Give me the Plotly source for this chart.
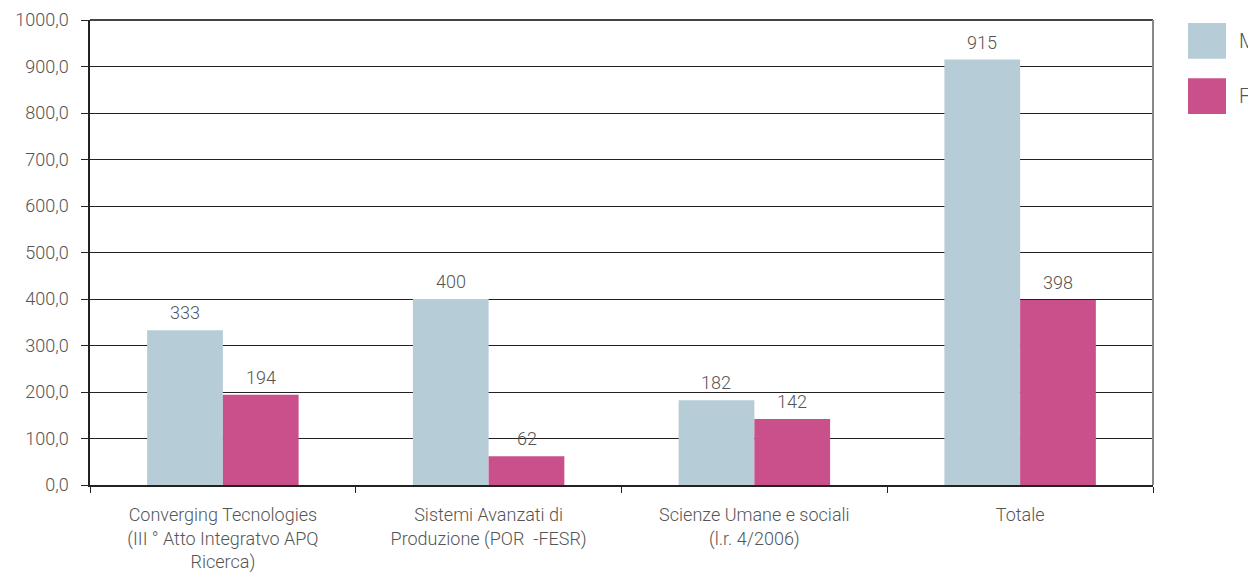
import plotly.graph_objects as go

categories = [
    "Converging Tecnologies<br>(III ° Atto Integratvo APQ<br>Ricerca)",
    "Sistemi Avanzati di<br>Produzione (POR  -FESR)",
    "Scienze Umane e sociali<br>(l.r. 4/2006)",
    "Totale",
]
series_names = ["M", "F"]
m_values = [333, 400, 182, 915]
f_values = [194, 62, 142, 398]
colors = ["#b6ccd6", "#c9508a"]
y_ticks = [0, 100, 200, 300, 400, 500, 600, 700, 800, 900, 1000]

FONT = "Roboto"
TXT = "#555555"

fig = go.Figure()
for name, vals, col in zip(series_names, [m_values, f_values], colors):
    fig.add_trace(go.Bar(
        name=name, x=categories, y=vals, marker_color=col,
        marker_line_width=0, showlegend=False,
    ))

# value labels
for i, vals in enumerate([m_values, f_values]):
    shift = -38 if i == 0 else 38
    for c, v in zip(categories, vals):
        fig.add_annotation(x=c, y=v, text=str(v), showarrow=False,
                           xshift=shift, yanchor="bottom", yshift=5,
                           font=dict(family=FONT, size=18, color=TXT, weight=300))

# legend drawn as boxes + labels
legend_tops = [0.9935, 0.875]
for name, col, y0 in zip(series_names, colors, legend_tops):
    fig.add_shape(type="rect", xref="paper", yref="paper",
                  x0=1.0329, x1=1.0687, y0=y0 - 0.077, y1=y0,
                  fillcolor=col, line_width=0)
    fig.add_annotation(xref="paper", yref="paper", x=1.0790, y=y0 - 0.0385,
                       text=name, showarrow=False, xanchor="left", yanchor="middle",
                       font=dict(family=FONT, size=20, color=TXT, weight=300))

# top and right border
fig.add_shape(type="line", xref="paper", yref="paper", x0=0, x1=1, y0=1, y1=1,
              line=dict(color="#444444", width=2))
fig.add_shape(type="line", xref="paper", yref="paper", x0=1, x1=1, y0=0, y1=1,
              line=dict(color="#888888", width=2))

fig.update_layout(
    width=1248, height=569,
    margin=dict(l=82, r=103, t=12, b=92, autoexpand=False),
    paper_bgcolor="white", plot_bgcolor="white",
    barmode="group", bargap=0.43, bargroupgap=0,
    separators=",.",
    font=dict(family=FONT, size=18, color=TXT, weight=300),
    showlegend=False,
)
fig.update_xaxes(
    automargin=False,
    showline=True, linecolor="#222222", linewidth=1.5,
    ticks="outside", tickson="boundaries", ticklen=6, tickcolor="#222222",
    tickfont=dict(family=FONT, size=18, color=TXT, weight=300),
    ticklabelstandoff=13,
    showgrid=False,
)
fig.update_yaxes(
    automargin=False,
    range=[0, 1000], tickvals=y_ticks, tickformat=".1f",
    showline=True, linecolor="#222222", linewidth=1.5,
    ticks="outside", ticklen=7, tickcolor="#222222",
    ticklabelstandoff=9,
    showgrid=True, gridcolor="#222222", gridwidth=1,
    tickfont=dict(family=FONT, size=18, color=TXT, weight=300),
    zeroline=False,
)

fig.write_html("out.html")
